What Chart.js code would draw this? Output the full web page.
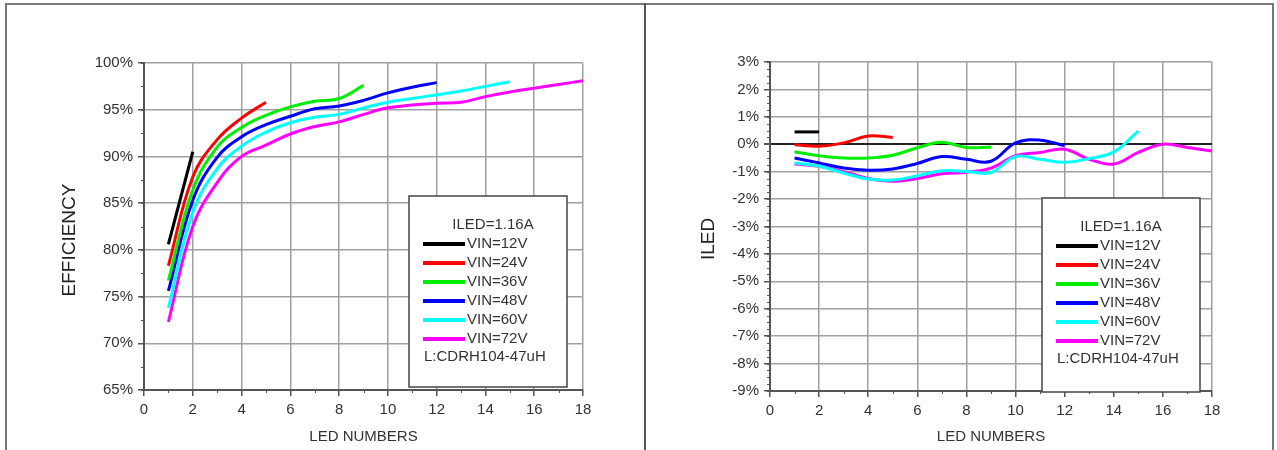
<!DOCTYPE html>
<html lang="en">
<head>
    <meta charset="UTF-8">
    <title>Efficiency and ILED vs LED Numbers</title>
    <script src="https://cdn.jsdelivr.net/npm/chart.js"></script>
    <style>
        body {
            margin: 0;
            width: 1277px;
            height: 450px;
            overflow: hidden;
            position: relative;
            background: white;
            font-family: "Liberation Sans", Arial, sans-serif;
        }
        .frame {
            position: absolute;
            left: 5px;
            top: 3px;
            width: 1265px;
            height: 470px;
            border: 2px solid #777;
        }
        .divider {
            position: absolute;
            left: 644px;
            top: 3px;
            width: 2px;
            height: 470px;
            background: #555;
        }
        .chart-box { position: absolute; top: 6px; }
    </style>
</head>
<body>
    <div class="frame"></div>
    <div class="divider"></div>
    <div class="chart-box" style="left:8px"><canvas id="effChart" width="636" height="444"></canvas></div>
    <div class="chart-box" style="left:648px"><canvas id="iledChart" width="624" height="444"></canvas></div>

    <script>
        // LED count on the x axis; each series starts at 1 LED
        const ledNumbers = [1, 2, 3, 4, 5, 6, 7, 8, 9, 10, 11, 12, 13, 14, 15, 16, 17, 18];
        const seriesLabels = ['VIN=12V', 'VIN=24V', 'VIN=36V', 'VIN=48V', 'VIN=60V', 'VIN=72V'];
        const seriesColors = ['#000000', '#ff0000', '#00ee00', '#0000ff', '#00ffff', '#ff00ff'];
        const legendTitle = 'ILED=1.16A';
        const legendNote = 'L:CDRH104-47uH';

        // efficiency, %
        const eff12 = [80.6, 90.5];
        const eff24 = [78.3, 87.8, 91.8, 94.1, 95.8];
        const eff36 = [76.7, 86.4, 91.0, 93.1, 94.4, 95.3, 95.9, 96.2, 97.6];
        const eff48 = [75.6, 85.3, 89.9, 92.1, 93.4, 94.3, 95.1, 95.4, 96.0, 96.8, 97.4, 97.9];
        const eff60 = [73.8, 84.0, 88.7, 91.1, 92.6, 93.6, 94.2, 94.5, 95.2, 95.8, 96.2, 96.6, 97.0, 97.5, 98.0];
        const eff72 = [72.3, 82.5, 87.2, 90.0, 91.2, 92.4, 93.2, 93.7, 94.5, 95.2, 95.5, 95.7, 95.8, 96.4, 96.9, 97.3, 97.7, 98.1];

        // ILED deviation, %
        const iled12 = [0.45, 0.45];
        const iled24 = [-0.02, -0.07, 0.05, 0.3, 0.25];
        const iled36 = [-0.27, -0.42, -0.5, -0.5, -0.4, -0.13, 0.07, -0.12, -0.1];
        const iled48 = [-0.5, -0.68, -0.87, -0.95, -0.9, -0.7, -0.45, -0.55, -0.62, 0.05, 0.15, -0.05];
        const iled60 = [-0.68, -0.8, -1.05, -1.27, -1.3, -1.15, -0.97, -0.99, -1.03, -0.45, -0.55, -0.66, -0.52, -0.28, 0.48];
        const iled72 = [-0.72, -0.8, -1.0, -1.25, -1.35, -1.25, -1.08, -1.02, -0.87, -0.42, -0.3, -0.18, -0.55, -0.72, -0.3, 0.0, -0.12, -0.25];

        const xTicks = [0, 2, 4, 6, 8, 10, 12, 14, 16, 18];

        Chart.defaults.font.family = '"Liberation Sans", Arial, sans-serif';
        Chart.defaults.color = '#333';

        function toPoints(values) {
            return values.map((v, i) => ({ x: ledNumbers[i], y: v }));
        }

        function buildDatasets(allSeries) {
            return allSeries.map((values, i) => ({
                label: seriesLabels[i],
                data: toPoints(values),
                borderColor: seriesColors[i],
                borderWidth: 3,
                pointRadius: 0,
                fill: false,
                tension: 0.4
            }));
        }

        // minor ticks, rotated y title and the boxed legend
        const decor = {
            id: 'decor',
            afterDatasetsDraw(chart, args, o) {
                const ctx = chart.ctx;
                const xs = chart.scales.x, ys = chart.scales.y;
                const area = chart.chartArea;
                ctx.save();
                ctx.strokeStyle = '#555';
                ctx.lineWidth = 1;
                ctx.beginPath();
                for (let v = xs.min + 1; v < xs.max; v += 2) {
                    const px = Math.round(xs.getPixelForValue(v)) + 0.5;
                    ctx.moveTo(px, area.bottom);
                    ctx.lineTo(px, area.bottom + 3);
                }
                for (let v = ys.min; v <= ys.max + 1e-9; v += o.yMinor) {
                    const py = Math.round(ys.getPixelForValue(v)) + 0.5;
                    ctx.moveTo(area.left, py);
                    ctx.lineTo(area.left - 3, py);
                }
                ctx.stroke();

                // y title
                ctx.fillStyle = '#222';
                ctx.font = '19px "Liberation Sans", Arial, sans-serif';
                ctx.textAlign = 'center';
                ctx.textBaseline = 'middle';
                ctx.translate(o.titleX, o.titleY);
                ctx.rotate(-Math.PI / 2);
                ctx.fillText(o.title, 0, 0);
                ctx.setTransform(1, 0, 0, 1, 0, 0);

                // legend box
                const bx = area.right - o.boxRight - 158;
                const by = area.bottom + o.boxBottom - o.boxH;
                ctx.fillStyle = '#fff';
                ctx.fillRect(bx, by, 158, o.boxH);
                ctx.strokeStyle = '#444';
                ctx.lineWidth = 1.5;
                ctx.strokeRect(bx, by, 158, o.boxH);

                ctx.font = '15px "Liberation Sans", Arial, sans-serif';
                ctx.fillStyle = '#333';
                ctx.textAlign = 'center';
                ctx.fillText(legendTitle, bx + o.titleDx, by + 29);
                ctx.textAlign = 'left';
                chart.data.datasets.forEach((ds, i) => {
                    const ly = by + 48 + i * 19;
                    ctx.strokeStyle = ds.borderColor;
                    ctx.lineWidth = 4;
                    ctx.beginPath();
                    ctx.moveTo(bx + 14, ly);
                    ctx.lineTo(bx + 56, ly);
                    ctx.stroke();
                    ctx.fillText(ds.label, bx + 58, ly);
                });
                ctx.fillText(legendNote, bx + 15, by + 161);
                ctx.restore();
            }
        };

        function makeOptions(cfg) {
            return {
                responsive: false,
                animation: false,
                layout: { padding: { top: cfg.padTop, right: cfg.padRight, left: 0, bottom: 0 } },
                plugins: {
                    legend: { display: false },
                    tooltip: { enabled: false },
                    decor: cfg.decor
                },
                scales: {
                    x: {
                        type: 'linear',
                        min: 0,
                        max: 18,
                        afterBuildTicks: s => { s.ticks = xTicks.map(v => ({ value: v })); },
                        afterFit: s => { s.height = cfg.xHeight; },
                        ticks: { padding: 5, font: { size: 15 }, color: '#333' },
                        grid: { color: '#a0a0a0', lineWidth: 1.5, tickColor: '#555', tickLength: 6 },
                        border: { color: '#555', width: 2 },
                        title: {
                            display: true,
                            text: 'LED NUMBERS',
                            color: '#333',
                            font: { size: 15 },
                            padding: { top: 0, bottom: 4 }
                        }
                    },
                    y: {
                        min: cfg.yMin,
                        max: cfg.yMax,
                        afterFit: s => { s.width = cfg.yWidth; },
                        ticks: {
                            stepSize: cfg.yStep,
                            padding: 5,
                            font: { size: 15 },
                            color: '#333',
                            callback: v => v + '%'
                        },
                        grid: {
                            color: c => (cfg.zeroLine && c.tick && c.tick.value === 0) ? '#222' : '#a0a0a0',
                            lineWidth: c => (cfg.zeroLine && c.tick && c.tick.value === 0) ? 2 : 1.5,
                            tickColor: '#555',
                            tickLength: 6
                        },
                        border: { color: '#555', width: 2 }
                    }
                }
            };
        }

        new Chart(document.getElementById('effChart'), {
            type: 'line',
            data: { datasets: buildDatasets([eff12, eff24, eff36, eff48, eff60, eff72]) },
            options: makeOptions({
                padTop: 57, padRight: 61, xHeight: 60, yWidth: 136,
                yMin: 65, yMax: 100, yStep: 5, zeroLine: false,
                decor: { yMinor: 2.5, title: 'EFFICIENCY', titleX: 62, titleY: 234, boxRight: 16, boxBottom: -3, boxH: 191, titleDx: 84 }
            }),
            plugins: [decor]
        });

        new Chart(document.getElementById('iledChart'), {
            type: 'line',
            data: { datasets: buildDatasets([iled12, iled24, iled36, iled48, iled60, iled72]) },
            options: makeOptions({
                padTop: 56, padRight: 60, xHeight: 59, yWidth: 122,
                yMin: -9, yMax: 3, yStep: 1, zeroLine: true,
                decor: { yMinor: 0.25, title: 'ILED', titleX: 61, titleY: 233, boxRight: 12, boxBottom: 1, boxH: 194, titleDx: 79 }
            }),
            plugins: [decor]
        });
    </script>
</body>
</html>
